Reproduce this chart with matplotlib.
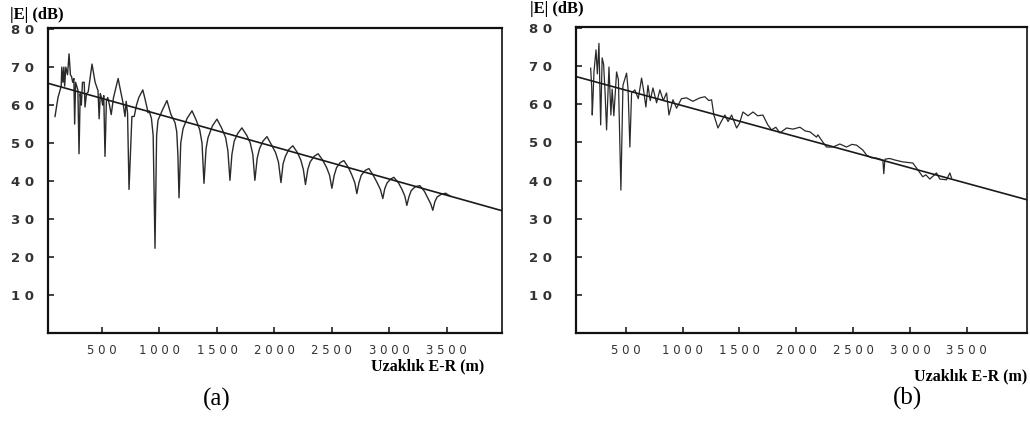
import matplotlib
matplotlib.use("Agg")
import matplotlib.pyplot as plt

# (a) measured field strength vs distance
dist_a = [91, 117, 135, 145, 150, 160, 168, 175, 185, 200, 213, 225, 235, 245, 255, 262,
          270, 280, 290, 300, 310, 320, 330, 345, 352, 365, 380, 413, 440, 465, 475, 485,
          495, 505, 515, 526, 538, 550, 565, 580, 600, 620, 640, 660, 683, 690, 700, 710,
          722, 735, 760, 780, 800, 820, 855, 875, 890, 900, 910, 930, 945, 961, 975, 987,
          1030, 1065, 1100, 1135, 1150, 1160, 1170, 1185, 1205, 1240, 1283, 1320, 1350,
          1370, 1387, 1405, 1422, 1460, 1500, 1540, 1575, 1595, 1613, 1630, 1650, 1680,
          1717, 1760, 1790, 1812, 1830, 1850, 1870, 1900, 1935, 1975, 2010, 2035, 2057,
          2075, 2095, 2125, 2160, 2200, 2230, 2252, 2270, 2290, 2310, 2345, 2380, 2420,
          2455, 2480, 2500, 2520, 2540, 2570, 2604, 2645, 2675, 2700, 2717, 2735, 2755,
          2790, 2822, 2860, 2895, 2922, 2943, 2960, 2980, 3010, 3039, 3080, 3110, 3135,
          3152, 3170, 3190, 3225, 3265, 3305, 3335, 3360, 3378, 3395, 3415, 3450, 3490,
          3530]
level_a = [57.0, 62.0, 64.0, 65.0, 70.0, 66.0, 70.0, 65.0, 70.0, 68.0, 73.5, 68.0, 67.5,
           66.0, 67.0, 55.0, 66.0, 65.0, 64.0, 47.2, 63.0, 60.0, 66.0, 66.0, 59.5, 63.0,
           63.5, 70.8, 66.0, 63.8, 56.4, 63.0, 62.0, 60.0, 62.5, 46.5, 61.0, 62.0, 60.0,
           57.5, 62.0, 64.5, 67.0, 64.0, 60.5, 59.0, 57.0, 61.0, 58.0, 37.8, 57.0, 57.0,
           60.0, 62.0, 64.0, 61.5, 59.5, 58.0, 58.5, 56.5, 52.0, 22.3, 52.0, 56.0, 59.0,
           61.2, 57.5, 55.4, 53.0, 47.0, 35.6, 50.0, 53.8, 56.5, 58.5, 56.0, 53.5, 50.0,
           39.4, 48.5, 51.4, 54.5, 56.3, 54.0, 51.5, 48.0, 40.2, 47.0, 50.5, 52.5, 54.0,
           52.0, 50.0, 47.0, 40.2, 46.0, 48.5, 50.5, 51.7, 49.5, 47.5, 45.0, 39.6, 44.5,
           46.5, 48.3, 49.3, 47.5, 45.5, 43.0, 39.1, 43.0, 45.0, 46.5, 47.2, 45.5, 43.5,
           41.5, 38.1, 41.5, 43.5, 44.8, 45.4, 43.5, 41.5, 39.5, 36.7, 39.5, 41.5, 42.8,
           43.3, 41.5, 39.5, 37.8, 35.4, 38.0, 39.5, 40.5, 41.0, 39.5, 37.8, 36.0, 33.6,
           35.8, 37.5, 38.5, 38.8, 37.3, 35.5, 34.0, 32.3, 34.5, 35.8, 36.5, 36.8, 36.0]

# (b) measured field strength vs distance
dist_b = [191, 200, 205, 212, 220, 238, 250, 264, 279, 292, 305, 318, 331, 352, 369, 380,
          395, 419, 435, 457, 475, 507, 520, 536, 551, 580, 610, 639, 655, 677, 695, 715,
          739, 771, 800, 830, 859, 880, 915, 947, 990, 1035, 1090, 1152, 1196, 1230, 1255,
          1275, 1311, 1340, 1372, 1400, 1431, 1475, 1500, 1531, 1575, 1620, 1660, 1706,
          1750, 1783, 1820, 1856, 1915, 1970, 2032, 2080, 2120, 2178, 2190, 2234, 2266,
          2323, 2383, 2442, 2490, 2530, 2586, 2618, 2660, 2706, 2762, 2770, 2780, 2820,
          2867, 2938, 3026, 3070, 3113, 3140, 3175, 3234, 3263, 3322, 3351, 3366]
level_b = [69.5, 64.6, 57.2, 62.0, 68.5, 74.3, 68.0, 76.0, 54.6, 72.2, 70.5, 63.0, 53.3,
           69.8, 57.2, 64.0, 57.0, 68.5, 66.5, 37.5, 65.0, 68.2, 64.0, 48.8, 63.0, 63.8,
           61.5, 66.9, 64.0, 59.3, 65.0, 61.0, 64.3, 60.4, 63.8, 61.0, 63.0, 57.2, 61.2,
           59.0, 61.5, 61.7, 60.8, 61.7, 62.0, 61.0, 61.2, 57.2, 53.8, 55.5, 57.2, 55.5,
           57.2, 53.8, 55.0, 58.0, 57.0, 58.0, 57.0, 57.2, 54.6, 53.3, 54.0, 52.5, 53.8,
           53.5, 54.0, 53.0, 52.8, 51.4, 52.0, 50.1, 48.8, 48.8, 49.6, 48.8, 49.5, 49.3,
           48.0, 46.7, 46.0, 45.9, 45.4, 41.8, 45.6, 45.8, 45.4, 44.9, 44.6, 42.8, 41.0,
           41.5, 40.4, 42.0, 40.4, 40.2, 42.0, 40.7]

# regression lines (end points)
trend_x = [0, 4050]
trend_a = [66.0, 31.6]
trend_b = [67.8, 34.8]

yticks = [10, 20, 30, 40, 50, 60, 70, 80]
xticks = [500, 1000, 1500, 2000, 2500, 3000, 3500]


def spaced(v):
    return " ".join(str(v))


fig = plt.figure(figsize=(10.3, 4.21), dpi=100)
W, H = 1030, 421


def panel(left, right, top, xlim, dist, level, trend, ypad, lw):
    ax = fig.add_axes([left / W, (H - 333) / H, (right - left) / W, (333 - top) / H])
    ax.plot(dist, level, color="#2a2a2a", lw=lw)
    ax.plot(trend_x, trend, color="#1a1a1a", lw=1.2)
    ax.set_xlim(*xlim)
    ax.set_ylim(0, 80.3)
    ax.set_yticks(yticks)
    ax.set_yticklabels([spaced(v) for v in yticks], fontweight="bold", fontsize=9.5)
    ax.set_xticks(xticks)
    ax.set_xticklabels([spaced(v) for v in xticks], fontsize=8.5)
    ax.tick_params(direction="in", length=4, width=1.2, colors="#222222",
                   labelcolor="#333333")
    ax.tick_params(axis="y", pad=ypad)
    ax.tick_params(axis="x", pad=8)
    for s in ax.spines.values():
        s.set_linewidth(1.6)
        s.set_color("#111111")
    ax.spines["right"].set_linewidth(1.2)
    return ax


panel(48, 502, 28, (30, 3980), dist_a, level_a, trend_a, 10, 1.0)
panel(576, 1027, 27, (62, 4030), dist_b, level_b, trend_b, 17, 0.9)

serif = "Liberation Serif"
fig.text(10 / W, 1 - 15 / H, "|E| (dB)", fontfamily=serif, fontweight="bold",
         fontsize=12, va="center", ha="left")
fig.text(530 / W, 1 - 9 / H, "|E| (dB)", fontfamily=serif, fontweight="bold",
         fontsize=12, va="center", ha="left")
fig.text(484 / W, 1 - 366 / H, "Uzaklık E-R (m)", fontfamily=serif, fontweight="bold",
         fontsize=11.5, va="center", ha="right")
fig.text(1027 / W, 1 - 376 / H, "Uzaklık E-R (m)", fontfamily=serif, fontweight="bold",
         fontsize=11.5, va="center", ha="right")
fig.text(217 / W, 1 - 399 / H, "(a)", fontfamily=serif, fontsize=18,
         va="center", ha="center")
fig.text(907 / W, 1 - 398 / H, "(b)", fontfamily=serif, fontsize=18,
         va="center", ha="center")

fig.savefig("out.png", dpi=100)
